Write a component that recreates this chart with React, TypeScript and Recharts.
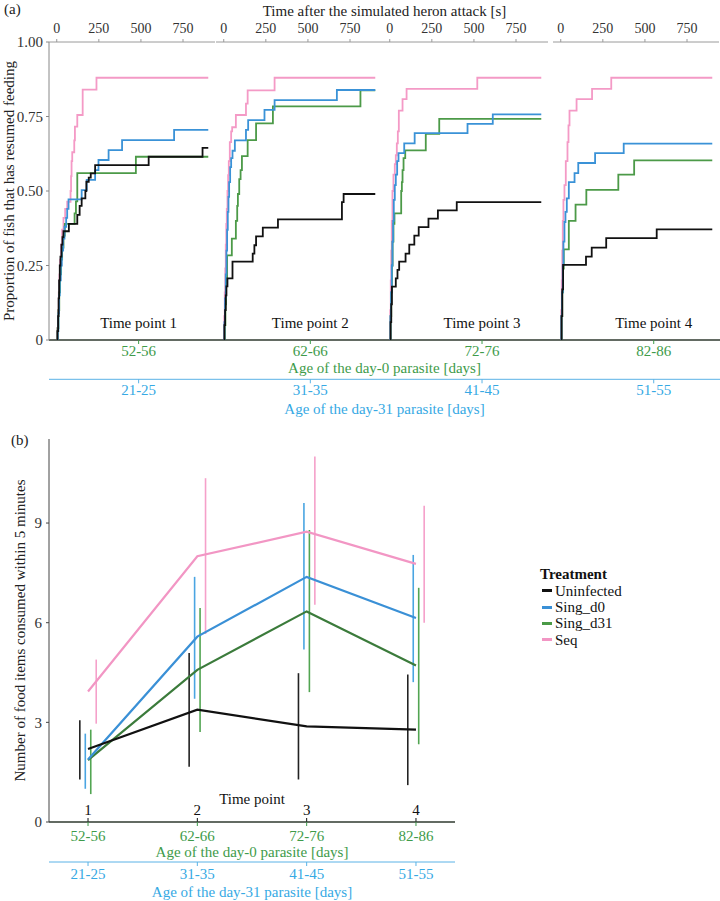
import React from 'react';
import { LineChart, ComposedChart, Line, XAxis, YAxis, Scatter, ErrorBar, Legend } from 'recharts';

const FONT = '"Liberation Serif", "DejaVu Serif", "Noto Serif", serif';

// ---------- shared labels ----------
const treatments = ['Uninfected', 'Sing_d0', 'Sing_d31', 'Seq'];
const timePoints = [1, 2, 3, 4];
const ageDay0 = ['52-56', '62-66', '72-76', '82-86'];
const ageDay31 = ['21-25', '31-35', '41-45', '51-55'];
const timeTicks = [0, 250, 500, 750];
const propTicks = [0, 0.25, 0.5, 0.75, 1];
const countTicks = [0, 3, 6, 9];

// ---------- panel (a): [time s, proportion] ----------
const tp1Seq = [[0,0],[4,0.04],[8,0.1],[12,0.16],[16,0.22],[20,0.27],[26,0.32],[32,0.37],[40,0.41],[50,0.44],[62,0.464],[82,0.5],[85,0.55],[88,0.6],[92,0.63],[104,0.67],[108,0.716],[122,0.755],[154,0.84],[236,0.88],[900,0.88]];
const tp1SingD0 = [[0,0],[6,0.03],[10,0.09],[14,0.15],[18,0.2],[24,0.25],[30,0.3],[38,0.34],[46,0.38],[56,0.41],[62,0.44],[70,0.472],[148,0.503],[178,0.537],[228,0.57],[248,0.604],[308,0.637],[388,0.671],[697,0.705],[900,0.705]];
const tp1SingD31 = [[0,0],[5,0.04],[10,0.1],[15,0.16],[20,0.22],[26,0.27],[32,0.31],[40,0.35],[48,0.39],[106,0.425],[114,0.465],[122,0.56],[470,0.615],[900,0.615]];
const tp1Uninfected = [[0,0],[4,0.03],[8,0.08],[11,0.14],[14,0.2],[18,0.25],[22,0.28],[28,0.32],[34,0.345],[40,0.365],[72,0.39],[122,0.42],[136,0.45],[148,0.475],[170,0.5],[176,0.531],[190,0.545],[202,0.559],[228,0.587],[546,0.615],[866,0.645],[900,0.645]];

const tp2Seq = [[0,0],[3,0.08],[6,0.16],[9,0.24],[12,0.32],[15,0.39],[18,0.44],[22,0.5],[26,0.553],[30,0.6],[36,0.664],[44,0.7],[50,0.714],[72,0.755],[132,0.793],[142,0.838],[302,0.88],[900,0.88]];
const tp2SingD0 = [[0,0],[4,0.06],[8,0.14],[12,0.22],[16,0.3],[20,0.37],[24,0.43],[28,0.48],[32,0.53],[38,0.58],[44,0.61],[52,0.635],[66,0.67],[132,0.705],[145,0.738],[242,0.772],[302,0.805],[672,0.839],[900,0.839]];
const tp2SingD31 = [[0,0],[6,0.05],[10,0.12],[14,0.2],[20,0.284],[48,0.34],[72,0.4],[80,0.45],[84,0.49],[92,0.54],[100,0.57],[108,0.617],[142,0.671],[192,0.727],[292,0.784],[812,0.838],[900,0.838]];
const tp2Uninfected = [[0,0],[4,0.05],[8,0.1],[12,0.15],[16,0.18],[22,0.207],[52,0.263],[172,0.29],[182,0.318],[192,0.348],[232,0.377],[322,0.405],[702,0.463],[712,0.49],[900,0.49]];

const tp3Seq = [[0,0],[3,0.1],[6,0.2],[9,0.3],[12,0.4],[16,0.5],[22,0.555],[30,0.59],[36,0.62],[42,0.66],[48,0.7],[54,0.77],[76,0.808],[100,0.843],[520,0.88],[900,0.88]];
const tp3SingD0 = [[0,0],[4,0.08],[8,0.16],[12,0.25],[16,0.33],[20,0.4],[24,0.47],[30,0.52],[36,0.555],[44,0.6],[52,0.627],[86,0.66],[148,0.694],[462,0.725],[612,0.757],[900,0.757]];
const tp3SingD31 = [[0,0],[5,0.08],[9,0.16],[13,0.25],[17,0.33],[22,0.39],[28,0.425],[68,0.5],[72,0.53],[76,0.57],[82,0.61],[92,0.636],[214,0.692],[294,0.742],[900,0.742]];
const tp3Uninfected = [[0,0],[5,0.06],[9,0.12],[13,0.179],[36,0.207],[46,0.235],[56,0.263],[94,0.29],[116,0.32],[146,0.35],[172,0.379],[230,0.407],[286,0.435],[398,0.463],[900,0.463]];

const tp4Seq = [[0,0],[3,0.1],[6,0.2],[9,0.3],[12,0.4],[16,0.47],[22,0.52],[30,0.6],[40,0.664],[46,0.72],[52,0.77],[94,0.808],[186,0.843],[300,0.88],[900,0.88]];
const tp4SingD0 = [[0,0],[4,0.08],[8,0.16],[12,0.25],[16,0.33],[22,0.396],[28,0.43],[36,0.475],[48,0.53],[82,0.56],[104,0.594],[204,0.627],[374,0.659],[900,0.659]];
const tp4SingD31 = [[0,0],[5,0.08],[9,0.16],[13,0.24],[18,0.304],[48,0.4],[88,0.454],[152,0.504],[342,0.555],[436,0.603],[900,0.603]];
const tp4Uninfected = [[0,0],[5,0.08],[9,0.17],[14,0.252],[150,0.28],[184,0.31],[270,0.342],[570,0.371],[900,0.371]];

// ---------- panel (b): food items eaten ----------
const meanUninfected = [2.2, 3.38, 2.88, 2.78];
const lowUninfected = [1.28, 1.66, 1.28, 1.11];
const highUninfected = [3.06, 5.09, 4.48, 4.44];
const meanSingD0 = [1.88, 5.58, 7.38, 6.14];
const lowSingD0 = [1.0, 3.71, 5.19, 4.21];
const highSingD0 = [2.66, 7.38, 9.6, 8.04];
const meanSingD31 = [1.86, 4.58, 6.34, 4.71];
const lowSingD31 = [0.84, 2.71, 3.91, 2.34];
const highSingD31 = [2.78, 6.44, 8.79, 7.05];
const meanSeq = [3.93, 8.0, 8.74, 7.77];
const lowSeq = [2.96, 5.66, 6.54, 6.0];
const highSeq = [4.89, 10.35, 11.0, 9.52];

// ---------- styling ----------
const GREEN_TXT = '#3e9b4a';
const BLUE_TXT = '#36a9e4';
const BLUE_LINE = '#5ab2e6';
const GRAY = '#9a9a9a';
const DARK_AXIS = '#2f3a2f';
const colorsA = { Uninfected: '#111111', Sing_d0: '#3a92d7', Sing_d31: '#4c9a48', Seq: '#f49ac6' };
const colorsB = { Uninfected: '#111111', Sing_d0: '#3a90d6', Sing_d31: '#3b7b3b', Seq: '#f296c4' };
const colorsErr = { Uninfected: '#222222', Sing_d0: '#4aa5e2', Sing_d31: '#52a552', Seq: '#f5a0ca' };
const legendColors = ['#111111', '#3a90d6', '#4a9a46', '#f296c4'];
const dodge = [-0.075, -0.025, 0.025, 0.075];

const FACET_DOMAIN = [-46, 940];
const A_DOMAIN = [0.478, 4.386];
const B_DOMAIN = [0.643, 4.357];
const B_YMAX = 11.53;
const facetLefts = [49, 215.5, 382, 553];
const FACET_W = 166;

const toPts = (arr: number[][]) => arr.map(([t, v]) => ({ t, v }));

const facets = [
  { Seq: tp1Seq, Sing_d31: tp1SingD31, Sing_d0: tp1SingD0, Uninfected: tp1Uninfected },
  { Seq: tp2Seq, Sing_d31: tp2SingD31, Sing_d0: tp2SingD0, Uninfected: tp2Uninfected },
  { Seq: tp3Seq, Sing_d31: tp3SingD31, Sing_d0: tp3SingD0, Uninfected: tp3Uninfected },
  { Seq: tp4Seq, Sing_d31: tp4SingD31, Sing_d0: tp4SingD0, Uninfected: tp4Uninfected },
];
const drawOrder = ['Seq', 'Sing_d31', 'Sing_d0', 'Uninfected'];

const ageRows = timePoints.map((tp) => ({ tp, p: 0.5 }));

const meansB = { Uninfected: meanUninfected, Sing_d0: meanSingD0, Sing_d31: meanSingD31, Seq: meanSeq };
const lowsB = { Uninfected: lowUninfected, Sing_d0: lowSingD0, Sing_d31: lowSingD31, Seq: lowSeq };
const highsB = { Uninfected: highUninfected, Sing_d0: highSingD0, Sing_d31: highSingD31, Seq: highSeq };

const bRows = timePoints.map((tp, i) => {
  const row: any = { tp };
  treatments.forEach((t) => { row[t] = (meansB as any)[t][i]; });
  return row;
});
const errRows = (name: string, k: number) =>
  timePoints.map((tp, i) => {
    const m = (meansB as any)[name][i];
    return { tp: tp + dodge[k], y: m, err: [m - (lowsB as any)[name][i], (highsB as any)[name][i] - m] };
  });

const EmptyShape = () => <g />;

function TreatmentLegend() {
  return (
    <div style={{ fontFamily: FONT, fontSize: 15, color: '#111', textAlign: 'left' }}>
      <div style={{ fontWeight: 'bold', height: 18, lineHeight: '18px' }}>Treatment</div>
      {treatments.map((t, i) => (
        <div key={t} style={{ display: 'flex', alignItems: 'center', height: 16.4, lineHeight: '16.4px' }}>
          <span style={{ display: 'inline-block', width: 10, height: 3, background: legendColors[i], marginLeft: 1.5, marginRight: 3.5 }} />
          <span>{t}</span>
        </div>
      ))}
    </div>
  );
}

const tickStyle = { fill: '#333', fontSize: 15 };

export default function App() {
  return (
    <div style={{ position: 'absolute', left: 0, top: 0, width: 720, height: 901, background: '#fff', fontFamily: FONT, overflow: 'hidden' }}>
      <div style={{ position: 'absolute', left: 4, top: 1, fontSize: 15, color: '#222' }}>(a)</div>

      {/* frame of panel (a) */}
      <div style={{ position: 'absolute', left: 0, top: 0 }}>
        <LineChart width={720} height={420} margin={{ top: 0, right: 0, bottom: 0, left: 0 }} data={ageRows}>
          <XAxis xAxisId="title" orientation="top" type="number" domain={[0, 1]} allowDataOverflow height={42} tick={false} tickLine={false} axisLine={false}
            label={{ value: 'Time after the simulated heron attack [s]', position: 'insideTop', offset: 5, fill: '#222', fontSize: 15 }} />
          <XAxis xAxisId="tp" dataKey="tp" type="number" domain={A_DOMAIN} allowDataOverflow ticks={timePoints} mirror height={20}
            tickFormatter={(v: number) => `Time point ${v}`} axisLine={false} tickLine={false} tickSize={0} tickMargin={12}
            tick={{ fill: '#111', fontSize: 15 }} />
          <XAxis xAxisId="d0" dataKey="tp" type="number" domain={A_DOMAIN} allowDataOverflow ticks={timePoints} height={39.3}
            tickFormatter={(v: number) => ageDay0[v - 1]} axisLine={{ stroke: DARK_AXIS, strokeWidth: 1.5 }} tickLine={{ stroke: GREEN_TXT }}
            tickSize={4} tickMargin={1} tick={{ fill: GREEN_TXT, fontSize: 15 }}
            label={{ value: 'Age of the day-0 parasite [days]', position: 'insideBottom', offset: 6, fill: GREEN_TXT, fontSize: 15 }} />
          <XAxis xAxisId="d31" dataKey="tp" type="number" domain={A_DOMAIN} allowDataOverflow ticks={timePoints} height={40.7}
            tickFormatter={(v: number) => ageDay31[v - 1]} axisLine={{ stroke: BLUE_LINE }} tickLine={{ stroke: BLUE_LINE }}
            tickSize={4} tickMargin={1} tick={{ fill: BLUE_TXT, fontSize: 15 }}
            label={{ value: 'Age of the day-31 parasite [days]', position: 'insideBottom', offset: 6.5, fill: BLUE_TXT, fontSize: 15 }} />
          <YAxis type="number" domain={[0, 1]} allowDataOverflow ticks={propTicks} width={49} tickFormatter={(v: number) => (v === 0 ? '0' : v.toFixed(2))}
            axisLine={{ stroke: '#888' }} tickLine={{ stroke: '#888' }} tickSize={3} tickMargin={3} tick={tickStyle}
            label={{ value: 'Proportion of fish that has resumed feeding', angle: -90, position: 'insideLeft', offset: 9, style: { textAnchor: 'middle' }, fill: '#222', fontSize: 15 }} />
          <Line dataKey="p" xAxisId="d0" stroke="none" dot={false} isAnimationActive={false} legendType="none" />
        </LineChart>
      </div>

      {/* facets of panel (a) */}
      {facets.map((f, k) => (
        <div key={k} style={{ position: 'absolute', left: facetLefts[k], top: 14 }}>
          <LineChart width={FACET_W} height={326} margin={{ top: 0, right: 0, bottom: 0, left: 0 }}>
            <XAxis type="number" dataKey="t" orientation="top" domain={FACET_DOMAIN} allowDataOverflow ticks={timeTicks} height={28}
              axisLine={{ stroke: GRAY }} tickLine={{ stroke: GRAY }} tickSize={3} tickMargin={6} tick={{ fill: '#333', fontSize: 14 }} />
            <YAxis type="number" domain={[0, 1]} allowDataOverflow width={0} tick={false} tickLine={false} axisLine={{ stroke: GRAY }} />
            {drawOrder.map((name) => (
              <Line key={name} data={toPts((f as any)[name])} dataKey="v" type="stepAfter" stroke={(colorsA as any)[name]}
                strokeWidth={1.8} dot={false} isAnimationActive={false} />
            ))}
          </LineChart>
        </div>
      ))}

      <div style={{ position: 'absolute', left: 11, top: 432, fontSize: 15, color: '#222' }}>(b)</div>

      {/* panel (b) */}
      <div style={{ position: 'absolute', left: 0, top: 420 }}>
        <ComposedChart width={720} height={481} margin={{ top: 19, right: 265, bottom: 0, left: 0 }} data={bRows}>
          <XAxis xAxisId="tp" dataKey="tp" type="number" domain={B_DOMAIN} allowDataOverflow ticks={timePoints} mirror height={30}
            axisLine={false} tickLine={{ stroke: '#111' }} tickSize={4} tickMargin={3} tick={{ fill: '#111', fontSize: 15 }}
            label={{ value: 'Time point', position: 'insideBottom', offset: 18, fill: '#111', fontSize: 15 }} />
          <XAxis xAxisId="d0" dataKey="tp" type="number" domain={B_DOMAIN} allowDataOverflow ticks={timePoints} height={40}
            tickFormatter={(v: number) => ageDay0[v - 1]} axisLine={{ stroke: DARK_AXIS, strokeWidth: 1.5 }} tickLine={{ stroke: GREEN_TXT }}
            tickSize={4} tickMargin={4} tick={{ fill: GREEN_TXT, fontSize: 15 }}
            label={{ value: 'Age of the day-0 parasite [days]', position: 'insideBottom', offset: 5.3, fill: GREEN_TXT, fontSize: 15 }} />
          <XAxis xAxisId="d31" dataKey="tp" type="number" domain={B_DOMAIN} allowDataOverflow ticks={timePoints} height={39}
            tickFormatter={(v: number) => ageDay31[v - 1]} axisLine={{ stroke: BLUE_LINE }} tickLine={{ stroke: BLUE_LINE }}
            tickSize={4} tickMargin={2.4} tick={{ fill: BLUE_TXT, fontSize: 15 }}
            label={{ value: 'Age of the day-31 parasite [days]', position: 'insideBottom', offset: 3.7, fill: BLUE_TXT, fontSize: 15 }} />
          <YAxis yAxisId="main" type="number" domain={[0, B_YMAX]} allowDataOverflow ticks={countTicks} width={49}
            axisLine={{ stroke: '#444' }} tickLine={{ stroke: '#444' }} tickSize={3} tickMargin={4} tick={tickStyle}
            label={{ value: 'Number of food items consumed within 5 minutes', angle: -90, position: 'insideLeft', offset: 20, style: { textAnchor: 'middle' }, fill: '#222', fontSize: 15 }} />
          {treatments.map((name, k) => (
            <Scatter key={'e' + name} data={errRows(name, k)} dataKey="y" xAxisId="d0" yAxisId="main" shape={EmptyShape} isAnimationActive={false} legendType="none">
              <ErrorBar dataKey="err" direction="y" width={0} stroke={(colorsErr as any)[name]} strokeWidth={1.6} isAnimationActive={false} />
            </Scatter>
          ))}
          {drawOrder.map((name) => (
            <Line key={name} dataKey={name} xAxisId="d0" yAxisId="main" type="linear" stroke={(colorsB as any)[name]}
              strokeWidth={2.2} dot={false} isAnimationActive={false} />
          ))}
          <Legend layout="vertical" align="center" verticalAlign="middle" content={() => <TreatmentLegend />}
            wrapperStyle={{ left: 540, top: 144.5, width: 110 }} />
        </ComposedChart>
      </div>
    </div>
  );
}
